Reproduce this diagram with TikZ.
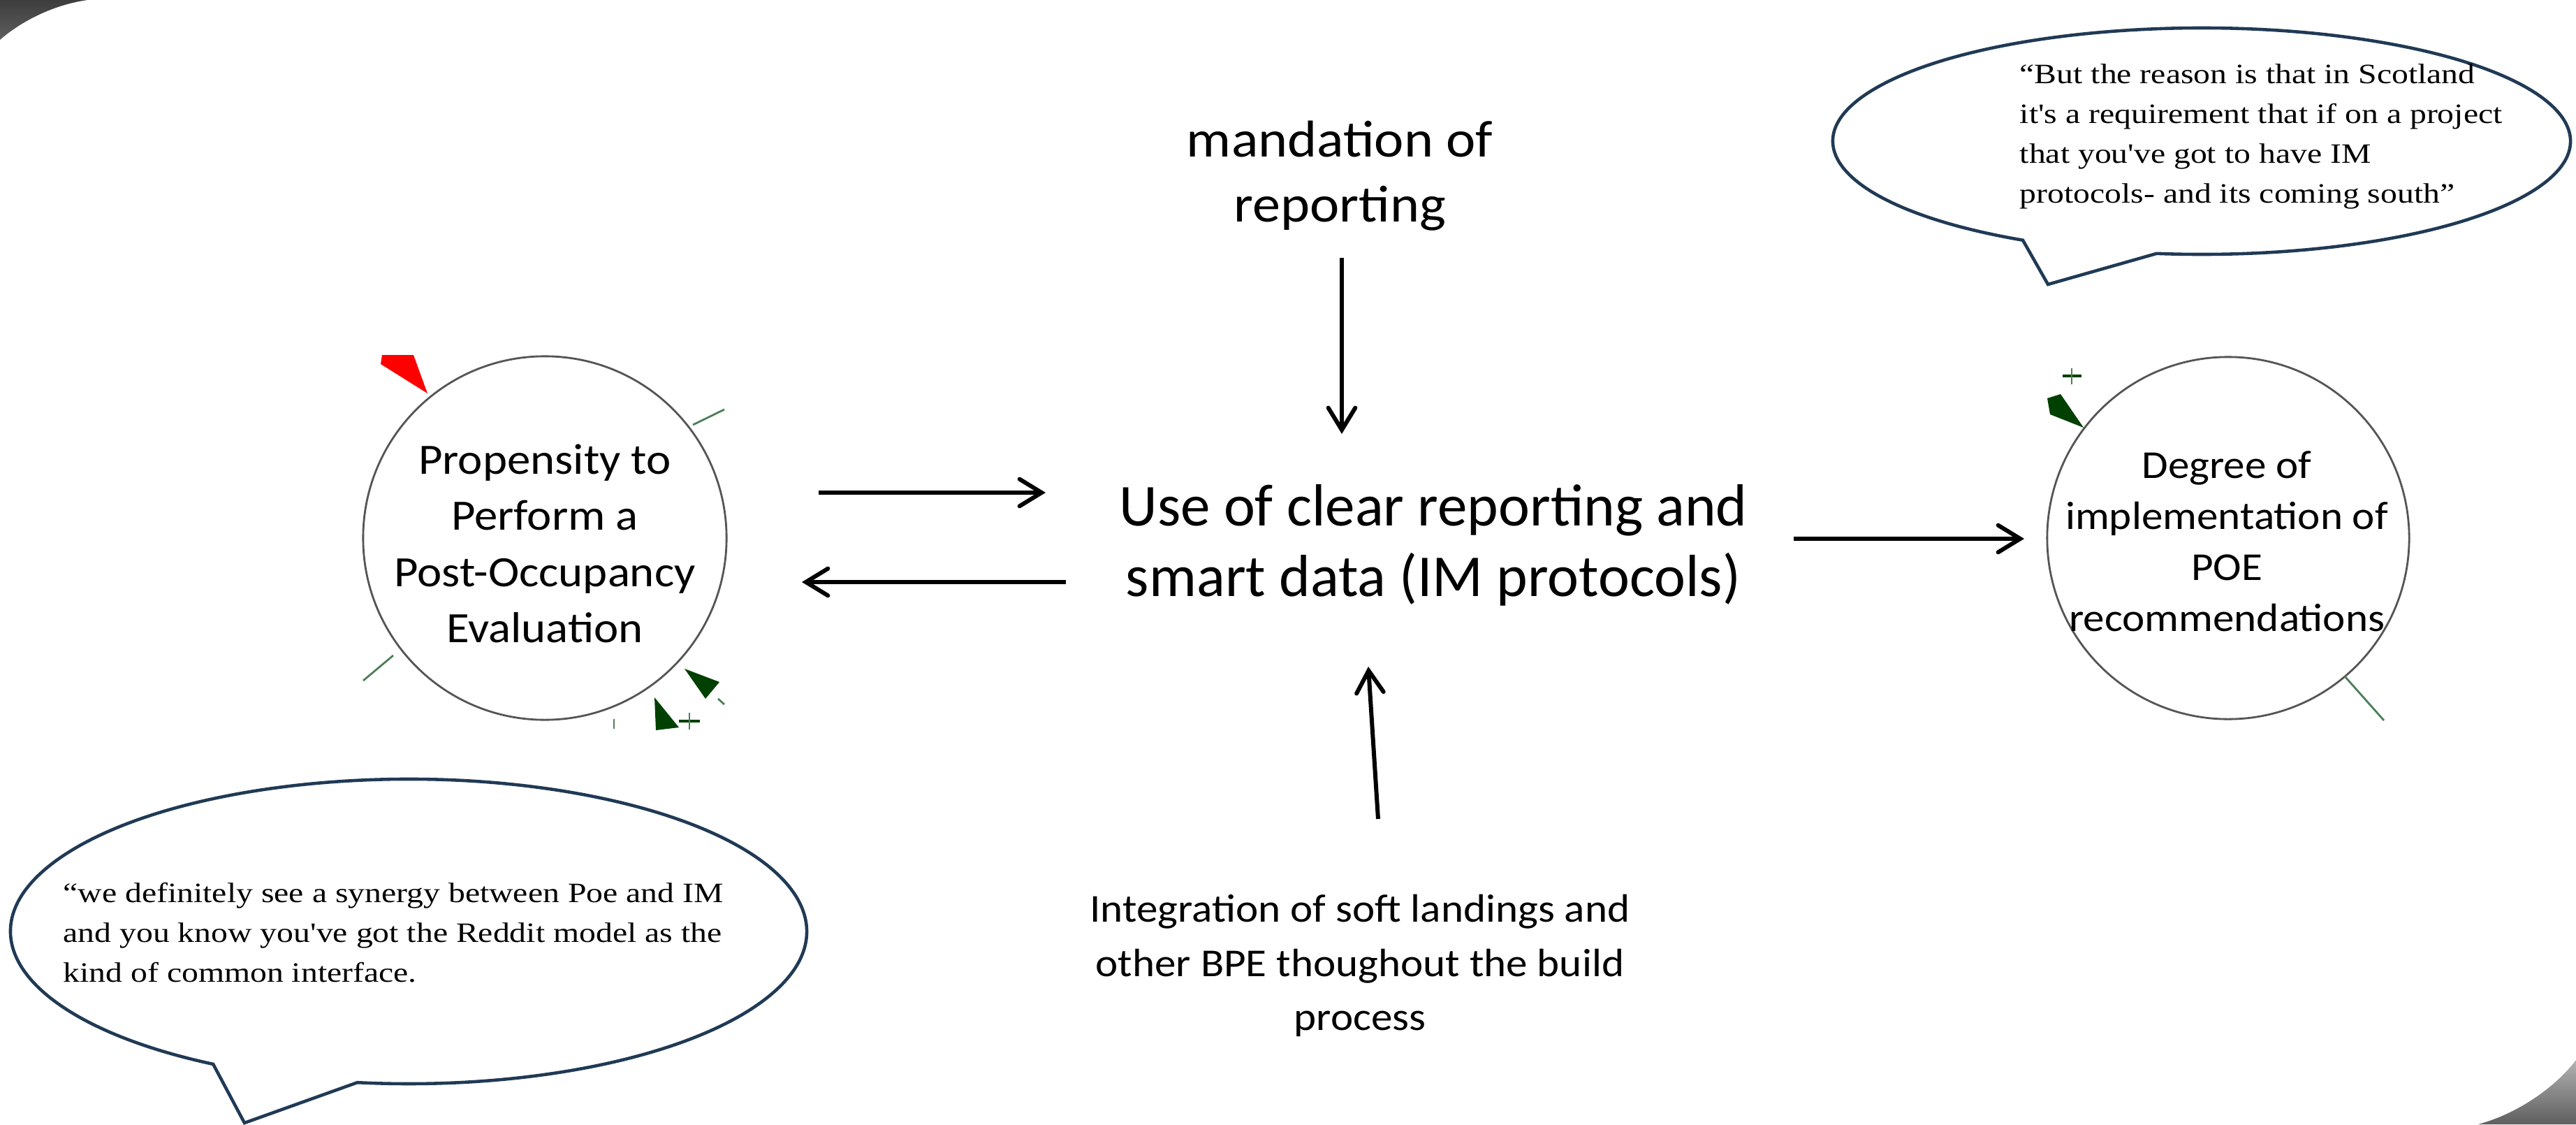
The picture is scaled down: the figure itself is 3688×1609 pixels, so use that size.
\documentclass[tikz,border=0pt]{standalone}
\usepackage{fontspec}
\setmainfont{Liberation Serif}
\newfontfamily\diafont[FakeStretch=1.08]{Carlito}
\newfontfamily\cenfont{Carlito}
\newfontfamily\bubfont[FakeStretch=1.19]{Liberation Serif}
\usetikzlibrary{arrows.meta}
\definecolor{bubline}{HTML}{203A55}
\definecolor{dgreen}{HTML}{004000}
\definecolor{lgreen}{HTML}{4C7F58}
\definecolor{circline}{HTML}{555555}
\begin{document}
\begin{tikzpicture}[x=0.01cm,y=-0.01cm,
  circ/.style={circle,draw=circline,line width=0.8pt,inner sep=0pt},
  lbl/.style={inner sep=0pt,align=center,text=black},
  flow/.style={line width=1.7pt,-{Straight Barb[length=9pt,width=11pt,line cap=round]}},
  bub/.style={draw=bubline,line width=1.3pt,fill=white,line join=miter},
  quote/.style={inner sep=0pt,align=left,anchor=west,font=\bubfont\fontsize{11.4pt}{16.2pt}\selectfont},
  wedge/.style={fill=dgreen},
  tick/.style={draw=lgreen,line width=0.8pt}]
\useasboundingbox (0,0) rectangle (3688,1609);

% corner decorations
\shade[top color=black!76, bottom color=black!63] (0,0) -- (125,0) .. controls (70,8) and (25,35) .. (0,57) -- cycle;
\shade[top color=black!30, bottom color=black!63] (3688,1517) .. controls (3655,1560) and (3600,1595) .. (3548,1609) -- (3688,1609) -- cycle;

% speech bubbles
\draw[bub] (2896,343.7) arc[start angle=119,end angle=457,x radius=528,y radius=162] -- (2932,407) -- cycle;
\draw[bub] (305.2,1522.9) arc[start angle=119.4,end angle=457.4,x radius=570,y radius=218] -- (350,1607) -- cycle;

\node[quote] (q1) at (2891,195) {“But the reason is that in Scotland\\it's a requirement that if on a project\\that you've got to have IM\\protocols- and its coming south”};
\node[quote] (q2) at (90,1335) {“we definitely see a synergy between Poe and IM\\and you know you've got the Reddit model as the\\kind of common interface.};

% circles
\node[circ,minimum size=5.2cm] (poe) at (780,770) {};
\node[lbl,font=\diafont\fontsize{17.6pt}{22.8pt}\selectfont] (poet) at (780,778) {Propensity to\\Perform a\\Post-Occupancy\\Evaluation};
\node[circ,minimum size=5.18cm] (deg) at (3190,770) {};
\node[lbl,font=\diafont\fontsize{16.1pt}{20.8pt}\selectfont] (degt) at (3188,775) {Degree of\\implementation of\\POE\\recommendations};

% text variables
\node[lbl,font=\cenfont\fontsize{24.2pt}{28.7pt}\selectfont] (use) at (2052,780) {Use of clear reporting and\\smart data (IM protocols)};
\node[lbl,font=\diafont\fontsize{21.1pt}{26.5pt}\selectfont] (mand) at (1918,252) {mandation of\\reporting};
\node[lbl,font=\diafont\fontsize{16.1pt}{22pt}\selectfont] (integ) at (1947,1382) {Integration of soft landings and\\other BPE thoughout the build\\process};

% arrow end points
\coordinate (a1s) at (1172,705); \coordinate (a1e) at (1497,705);
\coordinate (a2s) at (1526,833); \coordinate (a2e) at (1148,833);
\coordinate (a3s) at (1921,369); \coordinate (a3e) at (1921,621);
\coordinate (a4s) at (1973,1172); \coordinate (a4e) at (1959,954);
\coordinate (a5s) at (2568,771); \coordinate (a5e) at (2898,771);
\draw[flow] (a1s) -- (a1e);
\draw[flow] (a2s) -- (a2e);
\draw[flow] (a3s) -- (a3e);
\draw[flow] (a4s) -- (a4e);
\draw[flow] (a5s) -- (a5e);

% marks on left circle
\fill[red] (547,508) -- (592,508) -- (612,563) -- (545,521) -- cycle;
\draw[tick] (992,608) -- (1037,586);
\draw[tick] (563,938) -- (520,974);
\fill[wedge] (980,957) -- (1030,976) -- (1010,1000) -- cycle;
\draw[tick] (1028,1000) -- (1037,1008);
\fill[wedge] (937,998) -- (972,1041) -- (939,1045) -- cycle;
\draw[draw=dgreen,line width=0.9pt] (972,1032) -- (1002,1032);
\draw[tick] (987,1020) -- (987,1044);
\draw[tick] (879,1029) -- (879,1043);

% marks on right circle
\fill[wedge] (2950,564) -- (2931,570) -- (2935,593) -- (2983,612) -- cycle;
\draw[draw=dgreen,line width=0.9pt] (2953,538) -- (2980,538);
\draw[tick] (2966,527) -- (2966,550);
\draw[tick] (3357,968) -- (3413,1031);
\end{tikzpicture}
\end{document}
